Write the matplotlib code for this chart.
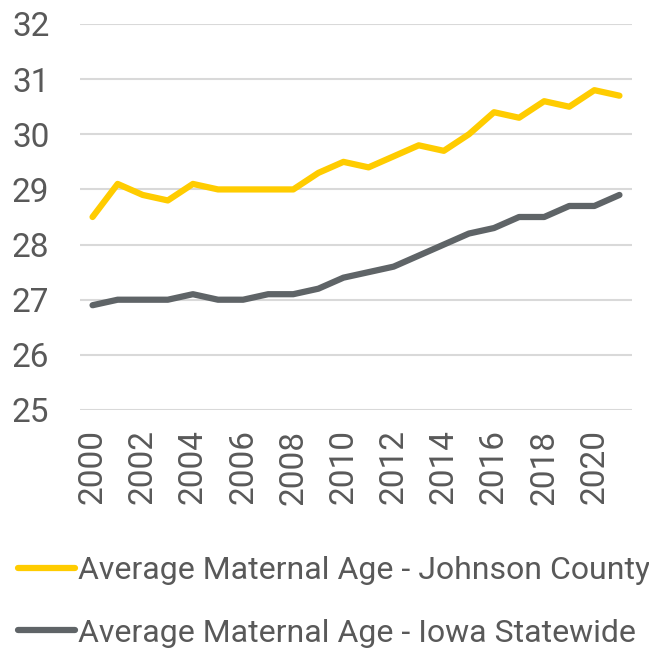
import matplotlib.pyplot as plt

years = list(range(2000, 2022))
johnson = [28.5, 29.1, 28.9, 28.8, 29.1, 29.0, 29.0, 29.0, 29.0, 29.3, 29.5,
           29.4, 29.6, 29.8, 29.7, 30.0, 30.4, 30.3, 30.6, 30.5, 30.8, 30.7]
iowa = [26.9, 27.0, 27.0, 27.0, 27.1, 27.0, 27.0, 27.1, 27.1, 27.2, 27.4,
        27.5, 27.6, 27.8, 28.0, 28.2, 28.3, 28.5, 28.5, 28.7, 28.7, 28.9]
labels = ['Average Maternal Age - Johnson County',
          'Average Maternal Age - Iowa Statewide']

plt.rcParams['font.family'] = ['Roboto', 'DejaVu Sans']
txt = '#595959'

fig = plt.figure(figsize=(6.49, 6.5), dpi=100)
ax = fig.add_axes([80 / 649, 240 / 650, 552 / 649, 386 / 650])

x = list(range(len(years)))
l1, = ax.plot(x, johnson, color='#FFCC00', lw=4.5, solid_capstyle='round', solid_joinstyle='round')
l2, = ax.plot(x, iowa, color='#5F6467', lw=4.5, solid_capstyle='round', solid_joinstyle='round')

ax.set_xlim(-0.5, len(years) - 0.5)
ax.set_ylim(25, 32)
ax.set_yticks(range(25, 33))
ax.set_xticks(x[::2])
ax.set_xticklabels([str(y) for y in years[::2]], rotation=90)
ax.tick_params(axis='both', length=0, labelsize=24, labelcolor=txt)
ax.tick_params(axis='y', pad=22)
ax.tick_params(axis='x', pad=14)
ax.grid(axis='y', color='#d9d9d9', lw=1.5)
ax.set_axisbelow(True)
for s in ax.spines.values():
    s.set_visible(False)

fig.legend([l1, l2], labels, loc='lower left', bbox_to_anchor=(0.018, -0.006),
           frameon=False, fontsize=23, labelcolor=txt, handlelength=1.78,
           handletextpad=0.1, labelspacing=1.04, borderpad=0.2, borderaxespad=0)

fig.savefig('out.png', dpi=100)
